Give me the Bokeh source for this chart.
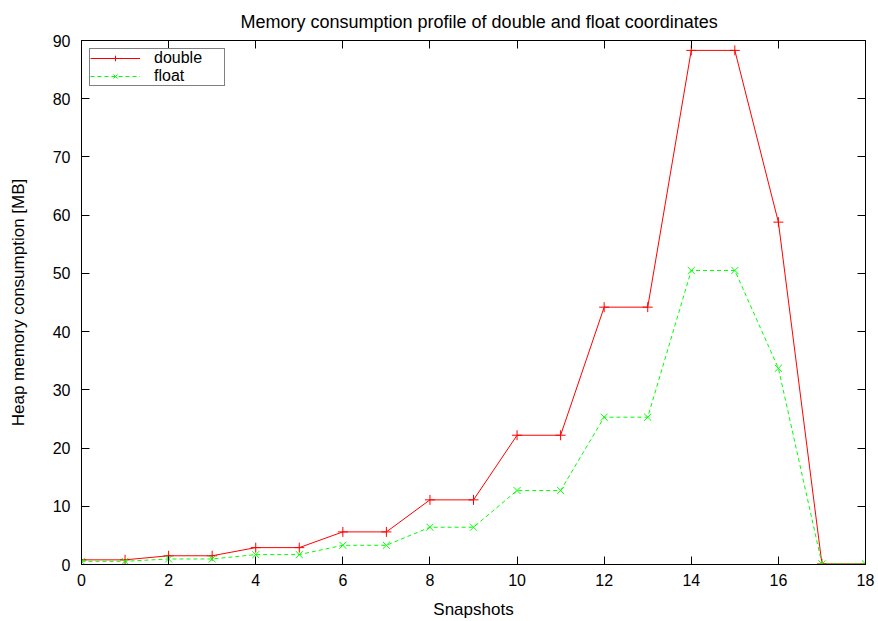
from bokeh.plotting import figure
from bokeh.models import (Range1d, LinearAxis, SingleIntervalTicker, Legend, LegendItem,
                          CustomJSTickFormatter)
from bokeh.embed import file_html
from bokeh.resources import INLINE

# ---- data ----
snapshots = list(range(19))
double_mb = [0.8, 0.8, 1.5, 1.5, 2.9, 2.9, 5.6, 5.6, 11.1, 11.1, 22.2, 22.2,
             44.2, 44.2, 88.3, 88.3, 58.8, 0.1, 0.1]
float_mb = [0.55, 0.55, 0.95, 0.95, 1.7, 1.7, 3.3, 3.3, 6.4, 6.4, 12.7, 12.7,
            25.3, 25.3, 50.5, 50.5, 33.7, 0.1, 0.1]
title_text = "Memory consumption profile of double and float coordinates"
x_label = "Snapshots"
y_label = "Heap memory consumption [MB]"

FONT = "Liberation Sans"

p = figure(width=878, height=621, output_backend="svg", toolbar_location=None,
           x_range=Range1d(0, 18), y_range=Range1d(0, 90),
           min_border_left=81, min_border_right=13, min_border_top=40,
           min_border_bottom=55)

p.title.text = title_text
p.title.text_font = FONT
p.title.text_font_size = "18px"
p.title.text_font_style = "normal"
p.title.text_color = "black"
p.title.align = "left"
p.title.offset = 159
p.title.standoff = 17

p.outline_line_color = "black"
p.outline_line_width = 1
p.xgrid.visible = False
p.ygrid.visible = False
p.background_fill_color = "white"
p.border_fill_color = "white"

xt = SingleIntervalTicker(interval=2, num_minor_ticks=0)
yt = SingleIntervalTicker(interval=10, num_minor_ticks=0)

for ax, t in ((p.xaxis[0], xt), (p.yaxis[0], yt)):
    ax.ticker = t
    ax.major_tick_in = 8
    ax.major_tick_out = 0
    ax.minor_tick_in = 0
    ax.minor_tick_out = 0
    ax.axis_line_color = "black"
    ax.major_tick_line_color = "black"
    ax.major_label_text_font = FONT
    ax.major_label_text_font_size = "16px"
    ax.major_label_text_color = "black"
    ax.axis_label_text_font = FONT
    ax.axis_label_text_font_size = "17px"
    ax.axis_label_text_font_style = "normal"
    ax.axis_label_text_color = "black"

p.xaxis[0].axis_label = x_label
p.xaxis[0].major_label_standoff = 9
p.xaxis[0].axis_label_standoff = 11
p.yaxis[0].axis_label = y_label
p.yaxis[0].major_label_standoff = 11
p.yaxis[0].axis_label_standoff = 22

blank = CustomJSTickFormatter(code="return '';")
top_ax = LinearAxis(ticker=SingleIntervalTicker(interval=2, num_minor_ticks=0),
                    formatter=blank, major_tick_in=8, major_tick_out=0,
                    minor_tick_in=0, minor_tick_out=0, major_label_standoff=0,
                    major_label_text_font_size="0px", axis_line_color="black",
                    major_tick_line_color="black")
right_ax = LinearAxis(ticker=SingleIntervalTicker(interval=10, num_minor_ticks=0),
                      formatter=blank, major_tick_in=8, major_tick_out=0,
                      minor_tick_in=0, minor_tick_out=0, major_label_standoff=0,
                      major_label_text_font_size="0px", axis_line_color="black",
                      major_tick_line_color="black")
p.add_layout(top_ax, "above")
p.add_layout(right_ax, "right")

RED = "#ff0000"
GREEN = "#00ff00"

l1 = p.line(snapshots, double_mb, line_color=RED, line_width=1)
m1 = p.scatter(snapshots, double_mb, marker="cross", size=10, line_color=RED, line_width=1)
l2 = p.line(snapshots, float_mb, line_color=GREEN, line_width=1, line_dash="4 3")
m2 = p.scatter(snapshots, float_mb, marker="x", size=10, line_color=GREEN, line_width=1)

legend = Legend(items=[LegendItem(label="double", renderers=[l1, m1]),
                       LegendItem(label="float", renderers=[l2, m2])],
                location="top_left")
legend.margin = 8
legend.padding = 0
legend.spacing = 0
legend.glyph_width = 50
legend.glyph_height = 14
legend.label_height = 14
legend.label_width = 70
legend.label_standoff = 14
legend.label_text_font = FONT
legend.label_text_font_size = "16px"
legend.label_text_color = "black"
legend.border_line_color = "black"
legend.border_line_width = 1
legend.background_fill_alpha = 1
p.add_layout(legend, "center")

open("out.html", "w").write(file_html(p, INLINE))
